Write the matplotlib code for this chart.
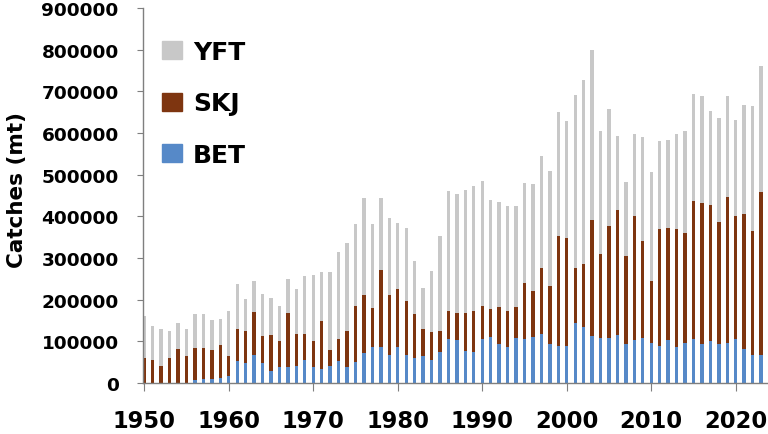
import matplotlib
matplotlib.use('Agg')
import matplotlib.pyplot as plt
from matplotlib.patches import Patch

# catches by year (mt)
years = list(range(1950, 2024))
bet = [0, 0, 0, 0, 0, 0, 8000, 10000, 10000, 13000,
       18000, 52000, 48000, 68000, 48000, 30000, 38000, 39000, 40000, 56000,
       38000, 33000, 40000, 54000, 39000, 50000, 73000, 86000, 87000, 68000,
       87000, 68000, 61000, 65000, 55000, 74000, 106000, 103000, 77000, 74000,
       106000, 110000, 94000, 86000, 107000, 106000, 110000, 118000, 94000, 90000,
       89000, 144000, 134000, 114000, 109000, 109000, 115000, 94000, 103000, 108000,
       96000, 90000, 103000, 87000, 96000, 105000, 94000, 102000, 94000, 96000,
       105000, 82000, 68000, 68000]
skj = [60000, 56000, 42000, 61000, 82000, 66000, 76000, 75000, 69000, 79000,
       48000, 77000, 77000, 102000, 65000, 86000, 64000, 130000, 78000, 62000,
       63000, 115000, 39000, 52000, 87000, 134000, 139000, 95000, 185000, 143000,
       139000, 128000, 105000, 64000, 67000, 52000, 67000, 66000, 92000, 99000,
       78000, 67000, 88000, 88000, 75000, 134000, 110000, 159000, 140000, 264000,
       260000, 132000, 151000, 278000, 201000, 267000, 300000, 211000, 299000, 234000,
       148000, 279000, 270000, 282000, 264000, 331000, 338000, 326000, 293000, 350000,
       296000, 324000, 297000, 390000]
yft = [102000, 82000, 88000, 65000, 63000, 64000, 81000, 80000, 73000, 62000,
       107000, 108000, 77000, 74000, 100000, 89000, 84000, 80000, 107000, 139000,
       159000, 118000, 187000, 208000, 210000, 198000, 232000, 200000, 172000, 186000,
       157000, 177000, 127000, 99000, 148000, 227000, 287000, 285000, 295000, 299000,
       300000, 263000, 252000, 251000, 243000, 240000, 258000, 269000, 274000, 296000,
       281000, 416000, 442000, 408000, 294000, 282000, 177000, 177000, 196000, 248000,
       262000, 213000, 211000, 229000, 245000, 258000, 256000, 225000, 250000, 242000,
       231000, 262000, 299000, 304000]

c_bet = '#5689C8'
c_skj = '#7E3510'
c_yft = '#C8C8C8'

fig = plt.figure(figsize=(7.68, 4.35), dpi=100)
ax = fig.add_axes([143/768, 1 - 384/435, 624/768, 375/435])

w = 0.4
bottom2 = [b + s for b, s in zip(bet, skj)]
ax.bar(years, bet, width=w, color=c_bet, label='BET')
ax.bar(years, skj, width=w, bottom=bet, color=c_skj, label='SKJ')
ax.bar(years, yft, width=w, bottom=bottom2, color=c_yft, label='YFT')

ax.set_xlim(1949.85, 2023.7)
ax.set_ylim(0, 900000)
ax.set_yticks(range(0, 900001, 100000))
ax.set_xticks(range(1950, 2021, 10))

for s in ['top', 'right']:
    ax.spines[s].set_visible(False)
for s in ['left', 'bottom']:
    ax.spines[s].set_color('#7f7f7f')
    ax.spines[s].set_linewidth(1.0)

ax.tick_params(axis='y', length=4.5, color='#7f7f7f', pad=13, labelsize=13.3)
ax.tick_params(axis='x', length=5.5, color='#7f7f7f', pad=13, labelsize=16.3)
for t in ax.get_xticklabels() + ax.get_yticklabels():
    t.set_fontweight('bold')

ax.set_ylabel('Catches (mt)', fontsize=15.5, fontweight='bold')
ax.yaxis.set_label_coords(-0.186, 0.517)

handles = [Patch(color=c_yft), Patch(color=c_skj), Patch(color=c_bet)]
ax.legend(handles, ['YFT', 'SKJ', 'BET'], loc='upper left',
          bbox_to_anchor=(0.03, 0.915), frameon=False, borderpad=0,
          borderaxespad=0, prop={'size': 18, 'weight': 'bold'},
          handlelength=0.8, handleheight=0.75, handletextpad=0.45,
          labelspacing=1.1)

fig.savefig('out.png', dpi=100)
